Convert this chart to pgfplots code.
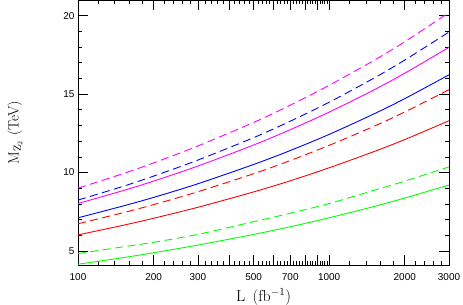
\documentclass[border=0pt]{standalone}
\usepackage{pgfplots}
\pgfplotsset{compat=1.18}
\usepackage{pgfplotstable}
\usepackage{fontspec}
\newfontfamily\ticksans{Liberation Sans}
\definecolor{mgreen}{RGB}{0,255,0}
\definecolor{mmag}{RGB}{255,0,255}
\definecolor{mblue}{RGB}{0,0,255}
\definecolor{mred}{RGB}{255,0,0}

\pgfplotstableread{
L ms md bs bd rs rd gs gd
100 8.02 9.00 7.11 8.24 6.02 6.73 4.15 4.83
150 8.83 9.91 7.85 9.10 6.62 7.42 4.56 5.25
200 9.45 10.61 8.41 9.77 7.08 7.95 4.88 5.55
300 10.41 11.69 9.28 10.79 7.78 8.77 5.37 6.05
500 11.75 13.19 10.51 12.22 8.76 9.92 6.05 6.86
700 12.73 14.29 11.40 13.27 9.47 10.76 6.54 7.40
1000 13.85 15.56 12.43 14.48 10.30 11.73 7.11 8.02
1500 15.25 17.13 13.72 16.00 11.32 12.93 7.82 8.85
2000 16.33 18.34 14.71 17.17 12.10 13.86 8.37 9.45
3000 17.98 20.20 16.23 18.96 13.30 15.28 9.20 10.36
}\data

\begin{document}
\begin{tikzpicture}
\useasboundingbox (0,0) rectangle (463bp,305bp);
\begin{axis}[
  scale only axis, width=371bp, height=265bp,
  at={(78bp,40bp)}, anchor=south west,
  xmode=log, xmin=100, xmax=3000, ymin=4.1, ymax=21,
  xtick={100,200,300,400,500,600,700,800,900,1000,2000,3000},
  xticklabels={100,200,300,,500,,700,,,1000,2000,3000},
  minor xtick={120,140,160,180,220,240,260,280,320,340,360,380,420,440,460,480,520,540,560,580,620,640,660,680,720,740,760,780,820,840,860,880,920,940,960,980,1200,1400,1600,1800,2200,2400,2600,2800},
  ytick={5,10,15,20}, yticklabels={5,10,15,20},
  minor ytick={6,7,8,9,11,12,13,14,16,17,18,19},
  major tick length=10bp, minor tick length=4bp,
  tick style={black, line width=0.6bp},
  axis line style={line width=0.8bp},
  ticklabel style={font=\ticksans\fontsize{10}{12}\selectfont},
  xticklabel style={yshift=-5bp},
  xlabel={L\, (fb$^{-1}$)},
  ylabel={M$_{\mathrm{Z}_2}$ (TeV)},
  xlabel style={at={(axis description cs:0.5,-0.12)}, anchor=center, font=\fontsize{16}{19}\selectfont},
  ylabel style={at={(axis description cs:-0.17,0.5)}, anchor=center, font=\fontsize{15}{18}\selectfont},
  every axis plot/.append style={line width=0.9bp, smooth},
  clip=true,
]
\addplot[mmag, dash pattern=on 8bp off 4.5bp] table[x=L,y=md]{\data};
\addplot[mblue, dash pattern=on 8bp off 4.5bp] table[x=L,y=bd]{\data};
\addplot[mmag] table[x=L,y=ms]{\data};
\addplot[mblue] table[x=L,y=bs]{\data};
\addplot[mred, dash pattern=on 8bp off 4.5bp] table[x=L,y=rd]{\data};
\addplot[mred] table[x=L,y=rs]{\data};
\addplot[mgreen, dash pattern=on 8bp off 4.5bp] table[x=L,y=gd]{\data};
\addplot[mgreen] table[x=L,y=gs]{\data};
\end{axis}
\end{tikzpicture}
\end{document}
